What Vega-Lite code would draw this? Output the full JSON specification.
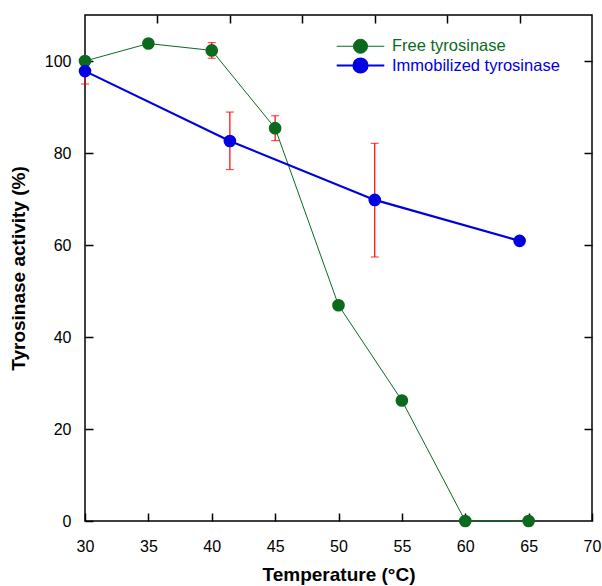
{
  "$schema": "https://vega.github.io/schema/vega-lite/v6.json",
  "width": 507,
  "height": 506,
  "autosize": {"type": "none"},
  "padding": {"left": 85, "top": 15, "right": 10, "bottom": 65},
  "background": "white",
  "config": {
    "view": {"stroke": "black", "strokeWidth": 1.5},
    "font": "Liberation Sans",
    "axis": {
      "grid": false,
      "domain": false,
      "labelFlush": false,
      "tickColor": "black",
      "tickWidth": 1.5,
      "tickSize": -8,
      "labelFont": "Liberation Sans",
      "labelFontSize": 16,
      "labelColor": "black",
      "titleFont": "Liberation Sans",
      "titleFontSize": 19,
      "titleFontWeight": "bold",
      "titleColor": "black"
    }
  },
  "datasets": {
    "series": [
      {"T": 30, "act": 100, "series": "Free tyrosinase"},
      {"T": 35, "act": 103.8, "series": "Free tyrosinase"},
      {"T": 40, "act": 102.3, "series": "Free tyrosinase"},
      {"T": 45, "act": 85.4, "series": "Free tyrosinase"},
      {"T": 50, "act": 46.9, "series": "Free tyrosinase"},
      {"T": 55, "act": 26.2, "series": "Free tyrosinase"},
      {"T": 60, "act": 0, "series": "Free tyrosinase"},
      {"T": 65, "act": 0, "series": "Free tyrosinase"},
      {"T": 30, "act": 97.8, "series": "Immobilized tyrosinase"},
      {"T": 41.43, "act": 82.6, "series": "Immobilized tyrosinase"},
      {"T": 52.86, "act": 69.8, "series": "Immobilized tyrosinase"},
      {"T": 64.29, "act": 60.9, "series": "Immobilized tyrosinase"}
    ],
    "err": [
      {"T": 30, "lo": 99.6, "hi": 100.4},
      {"T": 35, "lo": 103.2, "hi": 104.4},
      {"T": 40, "lo": 100.6, "hi": 104.0},
      {"T": 45, "lo": 82.7, "hi": 88.1},
      {"T": 30, "lo": 95.0, "hi": 100.6},
      {"T": 41.43, "lo": 76.4, "hi": 88.9},
      {"T": 52.86, "lo": 57.4, "hi": 82.1}
    ]
  },
  "layer": [
    {
      "data": {"name": "err"},
      "mark": {"type": "errorbar", "color": "#ff0000", "thickness": 1.2, "ticks": {"size": 8, "thickness": 1.2}},
      "encoding": {
        "x": {"field": "T", "type": "quantitative", "scale": {"domain": [30, 70], "nice": false}, "axis": null},
        "y": {"field": "lo", "type": "quantitative", "scale": {"domain": [0, 110], "nice": false}, "axis": null},
        "y2": {"field": "hi"}
      }
    },
    {
      "data": {"name": "series"},
      "mark": {"type": "line"},
      "encoding": {
        "x": {"field": "T", "type": "quantitative", "title": "Temperature (°C)",
              "axis": {"orient": "bottom", "values": [30, 35, 40, 45, 50, 55, 60, 65, 70], "labelPadding": 25, "titlePadding": 11}},
        "y": {"field": "act", "type": "quantitative", "title": "Tyrosinase activity (%)",
              "axis": {"orient": "left", "values": [0, 20, 40, 60, 80, 100], "labelPadding": 22, "titlePadding": 16}},
        "color": {
          "field": "series", "type": "nominal",
          "scale": {"domain": ["Free tyrosinase", "Immobilized tyrosinase"], "range": ["#0b6a1e", "#0000e0"]},
          "legend": {
            "title": null,
            "orient": "none",
            "legendX": 267,
            "legendY": 23,
            "symbolType": "M-3.4,0H3.4M1,0A1,1,0,1,1,-1,0A1,1,0,1,1,1,0Z",
            "symbolSize": 196,
            "rowPadding": -2,
            "labelOffset": 23,
            "labelLimit": 400,
            "labelFont": "Liberation Sans",
            "labelFontSize": 16.5,
            "encode": {
              "symbols": {"update": {
                "fill": {"scale": "color", "field": "value"},
                "stroke": {"scale": "color", "field": "value"},
                "strokeWidth": {"signal": "datum.value === 'Free tyrosinase' ? 1 : 2"},
                "opacity": {"value": 1}
              }},
              "labels": {"update": {"fill": {"scale": "color", "field": "value"}}}
            }
          }
        },
        "strokeWidth": {"field": "series", "type": "nominal",
          "scale": {"domain": ["Free tyrosinase", "Immobilized tyrosinase"], "range": [1, 2.2]}, "legend": null}
      }
    },
    {
      "data": {"name": "series"},
      "mark": {"type": "point", "shape": "circle", "filled": true, "opacity": 1, "size": 160},
      "encoding": {
        "x": {"field": "T", "type": "quantitative",
              "axis": {"orient": "top", "labels": false, "title": null, "values": [35.714, 41.429, 47.143, 52.857, 58.571, 64.286]}},
        "y": {"field": "act", "type": "quantitative",
              "axis": {"orient": "right", "labels": false, "title": null, "values": [20, 40, 60, 80, 100]}},
        "color": {"field": "series", "type": "nominal", "legend": null}
      }
    }
  ],
  "resolve": {"axis": {"x": "independent", "y": "independent"}}
}
